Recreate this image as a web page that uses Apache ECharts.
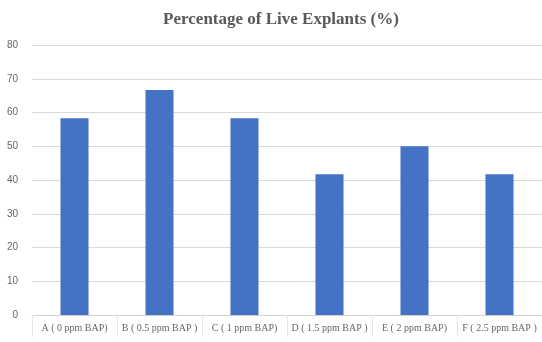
<!DOCTYPE html>
<html>
<head>
<meta charset="utf-8">
<script src="https://cdn.jsdelivr.net/npm/echarts@6/dist/echarts.min.js"></script>
<style>
  html, body {margin: 0; padding: 0; background: #fff;}
  #main {width: 542px; height: 342px;}
</style>
</head>
<body>
<div id="main"></div>
<script>
const categories = ['A ( 0 ppm BAP)', 'B ( 0.5 ppm BAP )', 'C ( 1 ppm BAP)', 'D ( 1.5 ppm BAP )', 'E ( 2 ppm BAP)', 'F ( 2.5 ppm BAP )'];
const liveExplants = [58.33, 66.67, 58.33, 41.67, 50, 41.67];

const chart = echarts.init(document.getElementById('main'));
chart.setOption({
  animation: false,
  title: {
    text: 'Percentage of Live Explants (%)',
    left: 276,
    textAlign: 'center',
    top: 6,
    textStyle: {
      fontFamily: 'Liberation Serif',
      fontSize: 17,
      fontWeight: 'bold',
      color: '#595959'
    }
  },
  grid: {left: 32, right: -4, top: 45, bottom: 27},
  xAxis: {
    type: 'category',
    data: categories,
    axisLine: {lineStyle: {color: '#d0d0d0'}},
    axisTick: {show: true, length: 22, lineStyle: {color: '#e6e6e6'}},
    axisLabel: {
      interval: 0,
      fontFamily: 'Liberation Serif',
      fontSize: 10,
      color: '#666666',
      margin: 8
    }
  },
  yAxis: {
    type: 'value',
    min: 0,
    max: 80,
    interval: 10,
    axisLine: {show: false},
    axisTick: {show: false},
    splitLine: {lineStyle: {color: '#d9d9d9'}},
    axisLabel: {
      fontFamily: 'Liberation Sans',
      fontSize: 10,
      color: '#666666',
      margin: 14
    }
  },
  series: [{
    type: 'bar',
    data: liveExplants,
    barWidth: '33%',
    itemStyle: {color: '#4472c4'}
  }]
});
</script>
</body>
</html>
